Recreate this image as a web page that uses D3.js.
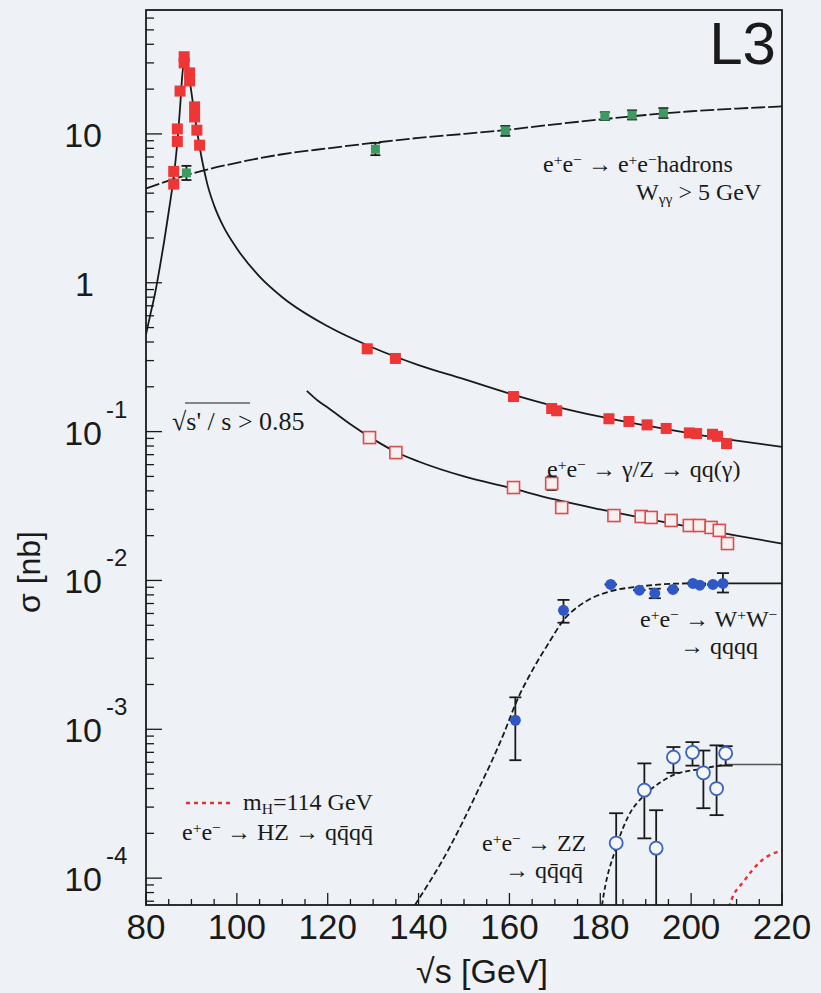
<!DOCTYPE html>
<html><head><meta charset="utf-8">
<script src="https://cdn.jsdelivr.net/npm/d3@7"></script>
<style>
html,body{margin:0;padding:0;background:#eef2f6;}
svg{display:block;}
</style></head>
<body><svg id="c" width="821" height="993"></svg>
<script>
// ---------- data ----------
const xTicks = [80,100,120,140,160,180,200,220];
const yDecades = [1e-4,1e-3,1e-2,1e-1,1,10];
const yTickExp = ["-4","-3","-2","-1","",""];
const yTickBase = ["10","10","10","10","1","10"];

// e+e- -> hadrons (Z peak + high energy), filled red squares
const hadE = [86.1,86.1,86.9,86.9,87.5,88.4,88.4,89.6,89.6,90.7,90.7,91.2,91.8,
              128.7,134.9,160.9,169.3,170.4,181.9,186.3,190.3,194.5,199.6,201.2,204.7,205.8,207.8];
const hadS = [4.6,5.6,10.8,8.9,19.4,33,30,25.7,22.7,15.2,13.0,10.6,8.4,
              0.36,0.31,0.172,0.143,0.138,0.122,0.117,0.111,0.105,0.098,0.097,0.096,0.093,0.083];
const hadCurveE = [80,81,82,83,84,85,86,86.5,87,87.5,88,88.4,88.8,89.3,90,90.6,91.2,91.8,92.5,93.5,95,97,100,105,110,120,130,140,150,160,170,180,190,200,210,220];
const hadCurveS = [0.45,0.62,0.85,1.25,1.9,3.0,4.9,6.6,9.5,15,25,31,30,26,19,14,10.6,8.2,6.3,4.6,3.3,2.4,1.7,1.1,0.8,0.51,0.366,0.28,0.225,0.18,0.148,0.126,0.11,0.097,0.087,0.079];

// sqrt(s'/s) > 0.85, open red squares
const exclE = [129.2,135.0,160.9,169.3,171.5,183.0,189.0,191.2,195.6,199.6,201.8,204.4,206.2,208.0];
const exclS = [0.0912,0.0723,0.0421,0.0448,0.0309,0.0273,0.0269,0.0265,0.0253,0.0234,0.0234,0.0227,0.0217,0.0177];
const exclLo = [null,null,null,0.0405,null,null,null,null,null,null,null,null,null,0.0163];
const exclHi = [null,null,null,0.0500,null,null,null,null,null,null,null,null,null,0.0192];
const exclCurveE = [115.4,118,120,125,130,135,140,150,160,170,180,190,200,210,220];
const exclCurveS = [0.188,0.16,0.145,0.112,0.089,0.073,0.063,0.05,0.042,0.035,0.030,0.026,0.0228,0.020,0.0177];

// e+e- -> e+e- hadrons, green squares
const ggE = [88.9,130.5,159.1,181.0,187.0,193.9];
const ggS = [5.47,7.9,10.5,13.2,13.4,13.8];
const ggLo = [4.9,7.2,9.7,12.4,12.5,12.8];
const ggHi = [6.1,8.7,11.3,14.0,14.4,14.9];
const ggCurveE = [80,85,90,100,110,120,130,140,150,160,170,180,190,200,210,220];
const ggCurveS = [4.3,4.85,5.4,6.4,7.3,8.0,8.7,9.4,10.0,10.7,11.6,12.5,13.4,14.2,14.8,15.3];

// e+e- -> W+W- -> qqqq, filled blue circles
const wwE = [161.3,171.9,182.3,188.6,192.0,196.0,200.4,201.9,204.8,207.0];
const wwS = [1.15e-3,6.3e-3,9.4e-3,8.6e-3,8.2e-3,8.7e-3,9.55e-3,9.3e-3,9.4e-3,9.55e-3];
const wwLo = [6.2e-4,5.2e-3,9.4e-3,8.6e-3,7.6e-3,8.7e-3,9.55e-3,9.3e-3,9.4e-3,8.3e-3];
const wwHi = [1.64e-3,7.4e-3,9.4e-3,8.6e-3,8.8e-3,8.7e-3,9.55e-3,9.3e-3,9.4e-3,1.12e-2];
const wwCurveE = [139.2,146.5,153.1,158.6,161.7,165.3,168.6,171.9,176.4,181.9,188.6,199.6,207];
const wwCurveS = [6.6e-5,1.54e-4,3.9e-4,9.1e-4,1.57e-3,2.57e-3,3.78e-3,5.4e-3,7.1e-3,8.4e-3,9.1e-3,9.55e-3,9.55e-3];
const wwFlatE = [207,220];
const wwFlatS = [9.55e-3,9.55e-3];

// e+e- -> ZZ -> qqqq, open blue circles
const zzE = [183.5,189.7,192.3,196.1,200.3,202.7,205.6,207.6];
const zzS = [1.72e-4,3.9e-4,1.59e-4,6.5e-4,7.0e-4,5.1e-4,4.0e-4,6.9e-4];
const zzLo = [1e-5,1.85e-4,1e-5,5.1e-4,5.7e-4,2.95e-4,2.65e-4,5.7e-4];
const zzHi = [2.73e-4,5.9e-4,2.86e-4,7.6e-4,8.2e-4,7.2e-4,7.8e-4,7.7e-4];
const zzCurveE = [179.5,180.4,183.5,186.3,189.7,193,195.9,201.8,207.8];
const zzCurveS = [4e-5,6.6e-5,1.61e-4,2.65e-4,3.6e-4,4.35e-4,4.9e-4,5.4e-4,5.8e-4];
const zzFlatE = [207.8,220];
const zzFlatS = [5.8e-4,5.8e-4];

// e+e- -> HZ, mH = 114 GeV, red dotted
const hzCurveE = [207.5,208.5,211.8,215.1,220];
const hzCurveS = [5e-5,6.6e-5,9.7e-5,1.28e-4,1.54e-4];

// ---------- layout ----------
const svg = d3.select("#c");
const L = 146, R = 782, T = 10, B = 905;
const x = d3.scaleLinear([80,220],[L,R]);
const y = d3.scaleLog([6.6e-5,68],[B,T]);
const zip = (a,b,c,d)=>a.map((v,i)=>({E:v,s:b[i],lo:c?c[i]:null,hi:d?d[i]:null}));

svg.append("rect").attr("width",821).attr("height",993).attr("fill","#eef2f6");
svg.append("defs").append("clipPath").attr("id","clip")
  .append("rect").attr("x",L).attr("y",T).attr("width",R-L).attr("height",B-T);

const g = svg.append("g");
const plot = g.append("g").attr("clip-path","url(#clip)");

const ink = "#1a1a1a";
const sans = "Liberation Sans, Arial, sans-serif";
// x ticks: minor every 5, major every 20
d3.range(80,221,5).forEach(v=>{
  const major = v%20===0;
  g.append("line").attr("x1",x(v)).attr("x2",x(v)).attr("y1",B).attr("y2",B-(major?12:6))
   .attr("stroke",ink).attr("stroke-width",1.3);
});
// y ticks (log minor)
y.ticks().forEach(v=>{
  const m = Math.round(v/Math.pow(10,Math.floor(Math.log10(v)+1e-9)));
  const major = m===1;
  g.append("line").attr("x1",L).attr("x2",L+(major?16:8)).attr("y1",y(v)).attr("y2",y(v))
   .attr("stroke",ink).attr("stroke-width",1.3);
});

// frame
g.append("rect").attr("x",L).attr("y",T).attr("width",R-L).attr("height",B-T)
  .attr("fill","none").attr("stroke",ink).attr("stroke-width",1.8);

// x tick labels
xTicks.forEach(v=>{
  g.append("text").attr("x",x(v)).attr("y",B+34).attr("text-anchor","middle")
   .attr("font-family",sans).attr("font-size",35).attr("fill",ink).text(v);
});
// y tick labels
yDecades.forEach((v,i)=>{
  g.append("text").attr("x",yTickBase[i]==="1"?94:102).attr("y",y(v)+13)
    .attr("text-anchor","end").attr("font-family",sans)
    .attr("font-size",34).attr("fill",ink).text(yTickBase[i]);
  if (yTickExp[i]) {
    g.append("text").attr("x",106).attr("y",y(v)-14).attr("font-family",sans)
     .attr("font-size",24).attr("fill",ink).text(yTickExp[i]);
  }
});
// axis titles
g.append("text").attr("transform","translate(40,572) rotate(-90)").attr("text-anchor","middle")
  .attr("font-family",sans).attr("font-size",32).attr("fill",ink)
  .text("σ [nb]");
g.append("text").attr("x",482).attr("y",983).attr("text-anchor","middle")
  .attr("font-family",sans).attr("font-size",34).attr("fill",ink)
  .text("√s [GeV]");

// curves
const line = d3.line().x(d=>x(d.E)).y(d=>y(d.s)).curve(d3.curveMonotoneX);
function curve(E,S,dash,color,w){
  plot.append("path").datum(zip(E,S)).attr("d",line).attr("fill","none")
   .attr("stroke",color||ink).attr("stroke-width",w||1.8).attr("stroke-dasharray",dash||null);
}
curve(hadCurveE,hadCurveS);
curve(exclCurveE,exclCurveS);
curve(ggCurveE,ggCurveS,"14,3");
curve(wwCurveE,wwCurveS,"6,3");
curve(wwFlatE,wwFlatS);
curve(zzCurveE,zzCurveS,"5,3");
curve(zzFlatE,zzFlatS,null,"#555",1.6);
curve(hzCurveE,hzCurveS,"4,4","#e83030",2.4);

// error bars
function errs(data,cap){
  data.forEach(d=>{
    if(d.lo==null) return;
    plot.append("line").attr("x1",x(d.E)).attr("x2",x(d.E)).attr("y1",y(d.lo)).attr("y2",y(d.hi))
      .attr("stroke",ink).attr("stroke-width",1.8);
    [d.lo,d.hi].forEach(v=>{
      if (y(v)>B) return;
      plot.append("line").attr("x1",x(d.E)-cap).attr("x2",x(d.E)+cap).attr("y1",y(v)).attr("y2",y(v))
        .attr("stroke",ink).attr("stroke-width",1.8);
    });
  });
}
errs(zip(ggE,ggS,ggLo,ggHi),5);
errs(zip(wwE,wwS,wwLo,wwHi),6);
errs(zip(zzE,zzS,zzLo,zzHi),7);
errs(zip(exclE,exclS,exclLo,exclHi),5);

// markers
zip(hadE,hadS).forEach(d=>{
  plot.append("rect").attr("x",x(d.E)-5.5).attr("y",y(d.s)-5.5).attr("width",11).attr("height",11)
    .attr("fill","#ee3636");
});
zip(exclE,exclS).forEach(d=>{
  plot.append("rect").attr("x",x(d.E)-6).attr("y",y(d.s)-6).attr("width",12).attr("height",12)
    .attr("fill","#f6f0f0").attr("stroke","#e04a4a").attr("stroke-width",1.6);
});
zip(ggE,ggS).forEach(d=>{
  plot.append("rect").attr("x",x(d.E)-4.5).attr("y",y(d.s)-4.5).attr("width",9).attr("height",9)
    .attr("fill","#3f9a62");
});
zip(wwE,wwS).forEach(d=>{
  plot.append("circle").attr("cx",x(d.E)).attr("cy",y(d.s)).attr("r",5.5).attr("fill","#2f58c4");
});
zip(zzE,zzS).forEach(d=>{
  plot.append("circle").attr("cx",x(d.E)).attr("cy",y(d.s)).attr("r",6.5)
    .attr("fill","#f4f6fb").attr("stroke","#3a62c2").attr("stroke-width",1.8);
});

// annotations
const serif = "Liberation Serif, Times New Roman, serif";
function rich(xp,yp,parts,size){
  const sz = size||25;
  const t = g.append("text").attr("x",xp).attr("y",yp).attr("font-family",serif)
    .attr("font-size",sz).attr("fill",ink);
  parts.forEach(p=>{
    const s = t.append("tspan").text(p[0]);
    if (p[1]==="sup") s.attr("baseline-shift","45%").attr("font-size",sz*0.65);
    if (p[1]==="sub") s.attr("baseline-shift","-25%").attr("font-size",sz*0.65);
  });
  return t;
}
rich(543,172,[["e"],["+","sup"],["e"],["−","sup"],[" → e"],["+","sup"],["e"],["−","sup"],["hadrons"]],24);
rich(636,200,[["W"],["γγ","sub"],[" > 5 GeV"]],24);
rich(172,430,[["√"],["s' / s > 0.85"]],26);
g.append("line").attr("x1",185).attr("x2",250).attr("y1",403).attr("y2",403).attr("stroke",ink).attr("stroke-width",1.2);
rich(547,477,[["e"],["+","sup"],["e"],["−","sup"],[" → γ/Z → qq(γ)"]],24);
rich(640,627,[["e"],["+","sup"],["e"],["−","sup"],[" → W"],["+","sup"],["W"],["−","sup"]],24);
rich(680,654,[["→ qqqq"]],24);
rich(482,851,[["e"],["+","sup"],["e"],["−","sup"],[" → ZZ"]],24);
rich(505,878,[["→ qq̄qq̄"]],24);
g.append("line").attr("x1",186).attr("x2",234).attr("y1",803).attr("y2",803)
  .attr("stroke","#e83030").attr("stroke-width",2.4).attr("stroke-dasharray","4,4");
rich(243,810,[["m"],["H","sub"],["=114 GeV"]],24);
rich(182,840,[["e"],["+","sup"],["e"],["−","sup"],[" → HZ → qq̄qq̄"]],24);

// L3 logo
g.append("text").attr("x",776).attr("y",64).attr("text-anchor","end")
  .attr("font-family",sans).attr("font-size",60).attr("fill",ink).text("L3");
</script></body></html>
